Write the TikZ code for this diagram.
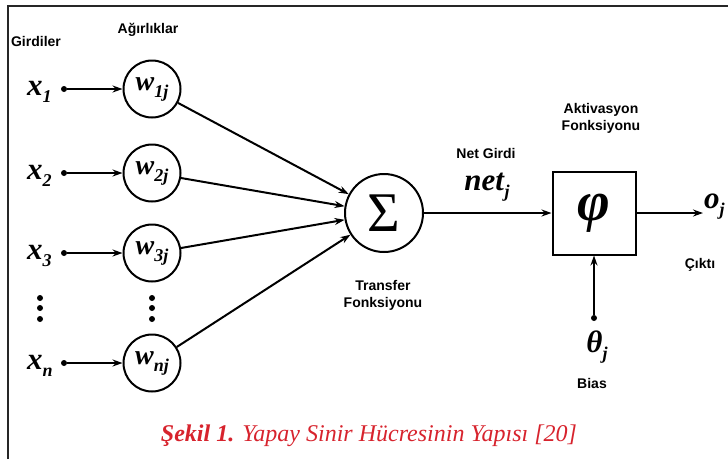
\documentclass[tikz,border=0pt]{standalone}
\usepackage{fontspec}
\setmainfont{Liberation Serif}
\setsansfont{Liberation Sans}
\usetikzlibrary{arrows.meta}
\definecolor{capred}{RGB}{215,35,45}
\newcommand{\isub}[2]{\textit{#1}\raisebox{-7pt}{\fontsize{18}{18}\selectfont\itshape #2}}
\tikzset{
	lbl/.style={font=\fontsize{14}{17}\selectfont\sffamily\bfseries, align=center},
	sym/.style={font=\fontsize{31}{31}\selectfont\bfseries, inner sep=0pt},
	wcirc/.style={circle, draw, line width=2pt, minimum size=57pt, inner sep=0pt, font=\fontsize{28}{28}\selectfont\bfseries},
	dotnode/.style={circle, fill, inner sep=0pt, minimum size=6pt},
	arr/.style={line width=2pt, -{Stealth[length=10pt,width=7pt]}}
}

\begin{document}
\begin{tikzpicture}[x=1pt,y=-1pt]
		%%%%% START %%%%%
		\useasboundingbox (0,0) rectangle (728,459);
		\draw[line width=2pt, black!85] (8,459) -- (8,6) -- (728,6);
		
		\node[lbl] (girdiler) at (36,41) {Girdiler};
		\node[lbl] (agirlik) at (148,30) {Ağırlıklar};
		
		\node[circle, draw, line width=2pt, minimum size=78pt, inner sep=0pt, font=\fontsize{56}{56}\selectfont] (sum) at (384,213) {Σ};
		\node[draw, line width=2pt, minimum size=83pt, inner sep=0pt, font=\fontsize{56}{56}\selectfont\bfseries\itshape] (act) at (594,213) {φ};
		
		\foreach \i/\y in {1/89,2/173,3/253,n/363} {
			\node[sym, anchor=base west] (x\i) at (27,\y+6) {\isub{x}{\i}};
			\node[dotnode] (d\i) at (64,\y) {};
			\node[wcirc] (w\i) at (152,\y) {\isub{w}{\i j}};
			\draw[arr] (d\i) -- (w\i);
			\draw[arr] (w\i) -- (sum);
		}
		
		\foreach \y in {298,308,319} {
			\fill (40,\y) circle (3pt);
			\fill (152,\y) circle (3pt);
		}
		
		\draw[arr] (sum) -- (act);
		\coordinate (outend) at (703,213);
		\draw[arr] (act) -- (outend);
		\node[sym, anchor=west] (oj) at (704,207) {\isub{o}{j}};
		
		\node[dotnode] (bdot) at (594,318) {};
		\draw[arr] (bdot) -- (act);
		\node[sym] (theta) at (597,347) {\isub{θ}{j}};
		
		\node[sym] (net) at (487,187) {\isub{net}{j}};
		\node[lbl] (netlbl) at (486,153) {Net Girdi};
		\node[lbl] (aktlbl) at (601,118) {Aktivasyon\\Fonksiyonu};
		\node[lbl] (trlbl) at (383,295) {Transfer\\Fonksiyonu};
		\node[lbl] (cikti) at (700,265) {Çıktı};
		\node[lbl] (bias) at (592,383) {Bias};
		
		\node[font=\fontsize{24}{24}\selectfont\itshape, text=capred] (caption) at (369,436) {\textbf{Şekil 1.} Yapay Sinir Hücresinin Yapısı [20]};
		%%%%% END %%%%%
\end{tikzpicture}
\end{document}
